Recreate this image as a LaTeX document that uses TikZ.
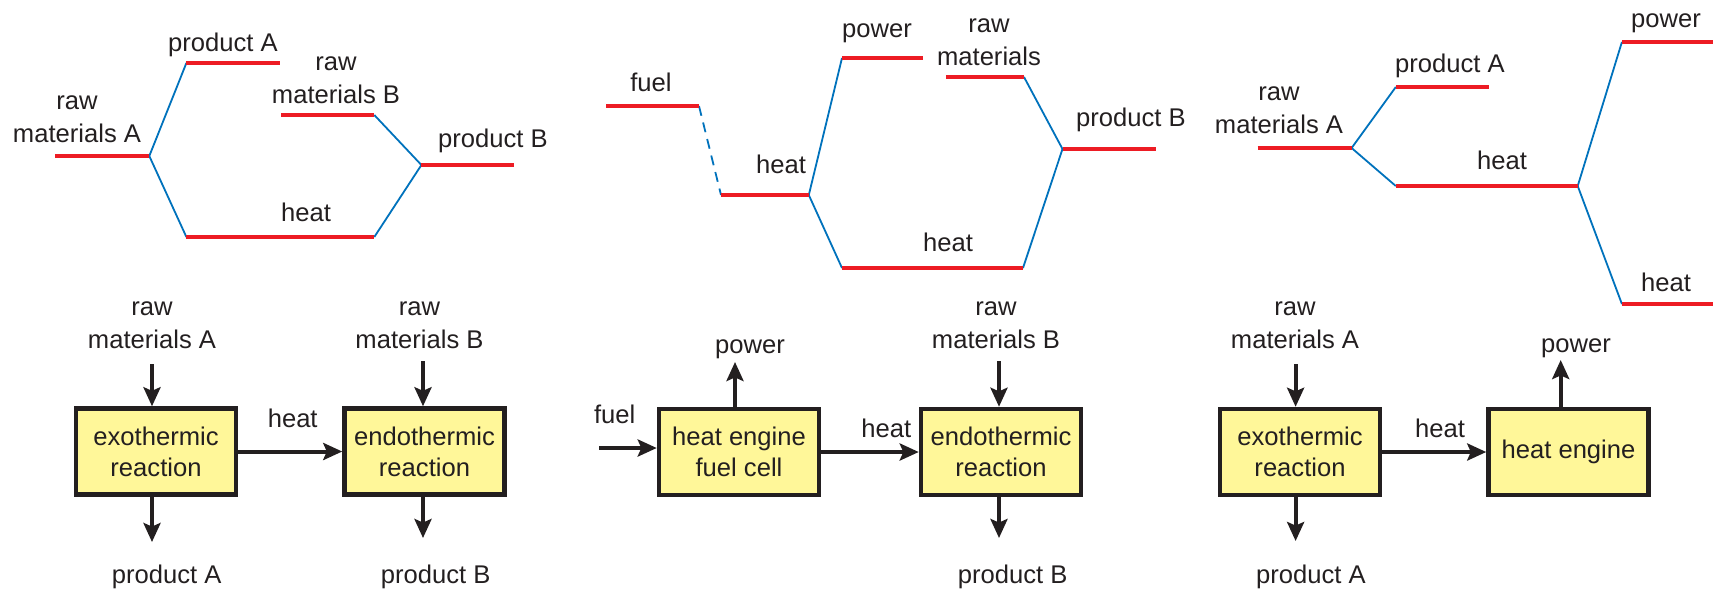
\documentclass[tikz,border=0pt]{standalone}
\usepackage{fontspec}
\setmainfont{Liberation Sans}
\usetikzlibrary{arrows.meta}
\definecolor{lvlred}{HTML}{ED1C24}
\definecolor{trblue}{HTML}{0072BC}
\definecolor{boxfill}{HTML}{FFF799}
\definecolor{ink}{HTML}{231F20}
\begin{document}
\begin{tikzpicture}[x=0.5pt,y=-0.5pt,
 lvl/.style={draw=lvlred,line width=1.7pt},
 trans/.style={draw=trblue,line width=0.9pt},
 transdash/.style={trans,dash pattern=on 5pt off 3.5pt},
 lbl/.style={text=ink,font=\fontsize{12.8}{16.25}\selectfont,inner sep=0pt,anchor=base,align=center},
 box/.style={draw=ink,fill=boxfill,line width=2.3pt,minimum width=79.95pt,minimum height=42.95pt,inner sep=0pt,align=center,text=ink,font=\fontsize{12.8}{15.5}\selectfont},
 arr/.style={draw=ink,line width=2pt,-{Stealth[length=9.5pt,width=8.5pt,inset=1.8pt]}}
]
\useasboundingbox (0,0) rectangle (1713,591);

% ---------- energy diagram 1 ----------
\coordinate (e1ra) at (55.4,156);  \coordinate (e1rb) at (149.3,156);
\coordinate (e1pa) at (186.4,63);  \coordinate (e1pb) at (280.4,63);
\coordinate (e1qa) at (281,115);   \coordinate (e1qb) at (374.3,115);
\coordinate (e1sa) at (421.4,165); \coordinate (e1sb) at (513.6,165);
\coordinate (e1ha) at (186.4,237); \coordinate (e1hb) at (374.3,237);
\draw[trans] (e1rb) -- (e1pa);
\draw[trans] (e1rb) -- (e1ha);
\draw[trans] (e1qb) -- (e1sa);
\draw[trans] (e1hb) -- (e1sa);
\draw[lvl] (e1ra) -- (e1rb);
\draw[lvl] (e1pa) -- (e1pb);
\draw[lvl] (e1qa) -- (e1qb);
\draw[lvl] (e1sa) -- (e1sb);
\draw[lvl] (e1ha) -- (e1hb);
\node[lbl] (l1ra) at (77,142) {raw\\materials A};
\node[lbl] (l1pa) at (223,51) {product A};
\node[lbl] (l1rb) at (336,103) {raw\\materials B};
\node[lbl] (l1pb) at (493,147) {product B};
\node[lbl] (l1h) at (306,221) {heat};

% ---------- energy diagram 2 ----------
\coordinate (e2fa) at (606,106);    \coordinate (e2fb) at (699,106);
\coordinate (e2ha) at (721,195);    \coordinate (e2hb) at (808.8,195);
\coordinate (e2pa) at (842,58);     \coordinate (e2pb) at (922.8,58);
\coordinate (e2ra) at (945.8,77);   \coordinate (e2rb) at (1024,77);
\coordinate (e2sa) at (1062.5,149); \coordinate (e2sb) at (1156,149);
\coordinate (e2la) at (842,268);    \coordinate (e2lb) at (1023,268);
\draw[transdash] (e2fb) -- (e2ha);
\draw[trans] (e2hb) -- (e2pa);
\draw[trans] (e2hb) -- (e2la);
\draw[trans] (e2rb) -- (e2sa);
\draw[trans] (e2lb) -- (e2sa);
\draw[lvl] (e2fa) -- (e2fb);
\draw[lvl] (e2ha) -- (e2hb);
\draw[lvl] (e2pa) -- (e2pb);
\draw[lvl] (e2ra) -- (e2rb);
\draw[lvl] (e2sa) -- (e2sb);
\draw[lvl] (e2la) -- (e2lb);
\node[lbl] (l2f) at (651,91) {fuel};
\node[lbl] (l2h) at (781,173) {heat};
\node[lbl] (l2p) at (877,37) {power};
\node[lbl] (l2r) at (989,65) {raw\\materials};
\node[lbl] (l2pb) at (1131,126) {product B};
\node[lbl] (l2l) at (948,251) {heat};

% ---------- energy diagram 3 ----------
\coordinate (e3ra) at (1257.5,148); \coordinate (e3rb) at (1351.6,148);
\coordinate (e3pa) at (1395.8,87);  \coordinate (e3pb) at (1489.3,87);
\coordinate (e3ha) at (1395.8,186); \coordinate (e3hb) at (1577.7,186);
\coordinate (e3wa) at (1621.9,42);  \coordinate (e3wb) at (1713,42);
\coordinate (e3la) at (1621.9,304); \coordinate (e3lb) at (1713,304);
\draw[trans] (e3rb) -- (e3pa);
\draw[trans] (e3rb) -- (e3ha);
\draw[trans] (e3hb) -- (e3wa);
\draw[trans] (e3hb) -- (e3la);
\draw[lvl] (e3ra) -- (e3rb);
\draw[lvl] (e3pa) -- (e3pb);
\draw[lvl] (e3ha) -- (e3hb);
\draw[lvl] (e3wa) -- (e3wb);
\draw[lvl] (e3la) -- (e3lb);
\node[lbl] (l3ra) at (1279,133) {raw\\materials A};
\node[lbl] (l3pa) at (1450,72) {product A};
\node[lbl] (l3h) at (1502,169) {heat};
\node[lbl] (l3w) at (1666,27) {power};
\node[lbl] (l3l) at (1666,291) {heat};

% ---------- block diagram 1 ----------
\node[box] (b1) at (156,451.5) {exothermic\\reaction};
\node[box] (b2) at (424.5,451.5) {endothermic\\reaction};
\node[lbl] (t1ra) at (152,348) {raw\\materials A};
\node[lbl] (t1pa) at (166.7,583) {product A};
\node[lbl] (t1h) at (292.7,427) {heat};
\node[lbl] (t1rb) at (419.5,348) {raw\\materials B};
\node[lbl] (t1pb) at (435.6,583) {product B};
\coordinate (i1) at (152,364);
\coordinate (o1) at (152,542);
\coordinate (i2) at (423,361);
\coordinate (o2) at (423,538);
\draw[arr] (i1) -- (i1 |- b1.north);
\draw[arr] (o1 |- b1.south) -- (o1);
\draw[arr] (b1.east) -- (b2.west);
\draw[arr] (i2) -- (i2 |- b2.north);
\draw[arr] (o2 |- b2.south) -- (o2);

% ---------- block diagram 2 ----------
\node[box] (b3) at (739,452) {heat engine\\fuel cell};
\node[box] (b4) at (1001,452) {endothermic\\reaction};
\node[lbl] (t2f) at (614.7,423) {fuel};
\node[lbl] (t2p) at (750,353) {power};
\node[lbl] (t2h) at (886.4,437) {heat};
\node[lbl] (t2rb) at (996,348) {raw\\materials B};
\node[lbl] (t2pb) at (1012.7,583) {product B};
\coordinate (f3) at (599,448);
\coordinate (p3) at (735,362);
\coordinate (i4) at (999,361);
\coordinate (o4) at (999,538);
\draw[arr] (f3) -- (f3 -| b3.west);
\draw[arr] (p3 |- b3.north) -- (p3);
\draw[arr] (b3.east) -- (b4.west);
\draw[arr] (i4) -- (i4 |- b4.north);
\draw[arr] (o4 |- b4.south) -- (o4);

% ---------- block diagram 3 ----------
\node[box] (b5) at (1300,452) {exothermic\\reaction};
\node[box] (b6) at (1568.5,452) {heat engine};
\node[lbl] (t3ra) at (1295,348) {raw\\materials A};
\node[lbl] (t3pa) at (1311,583) {product A};
\node[lbl] (t3h) at (1440,437) {heat};
\node[lbl] (t3p) at (1576,352) {power};
\coordinate (i5) at (1295.6,364);
\coordinate (o5) at (1295.6,541);
\coordinate (p6) at (1560.7,360);
\draw[arr] (i5) -- (i5 |- b5.north);
\draw[arr] (o5 |- b5.south) -- (o5);
\draw[arr] (b5.east) -- (b6.west);
\draw[arr] (p6 |- b6.north) -- (p6);
\end{tikzpicture}
\end{document}
